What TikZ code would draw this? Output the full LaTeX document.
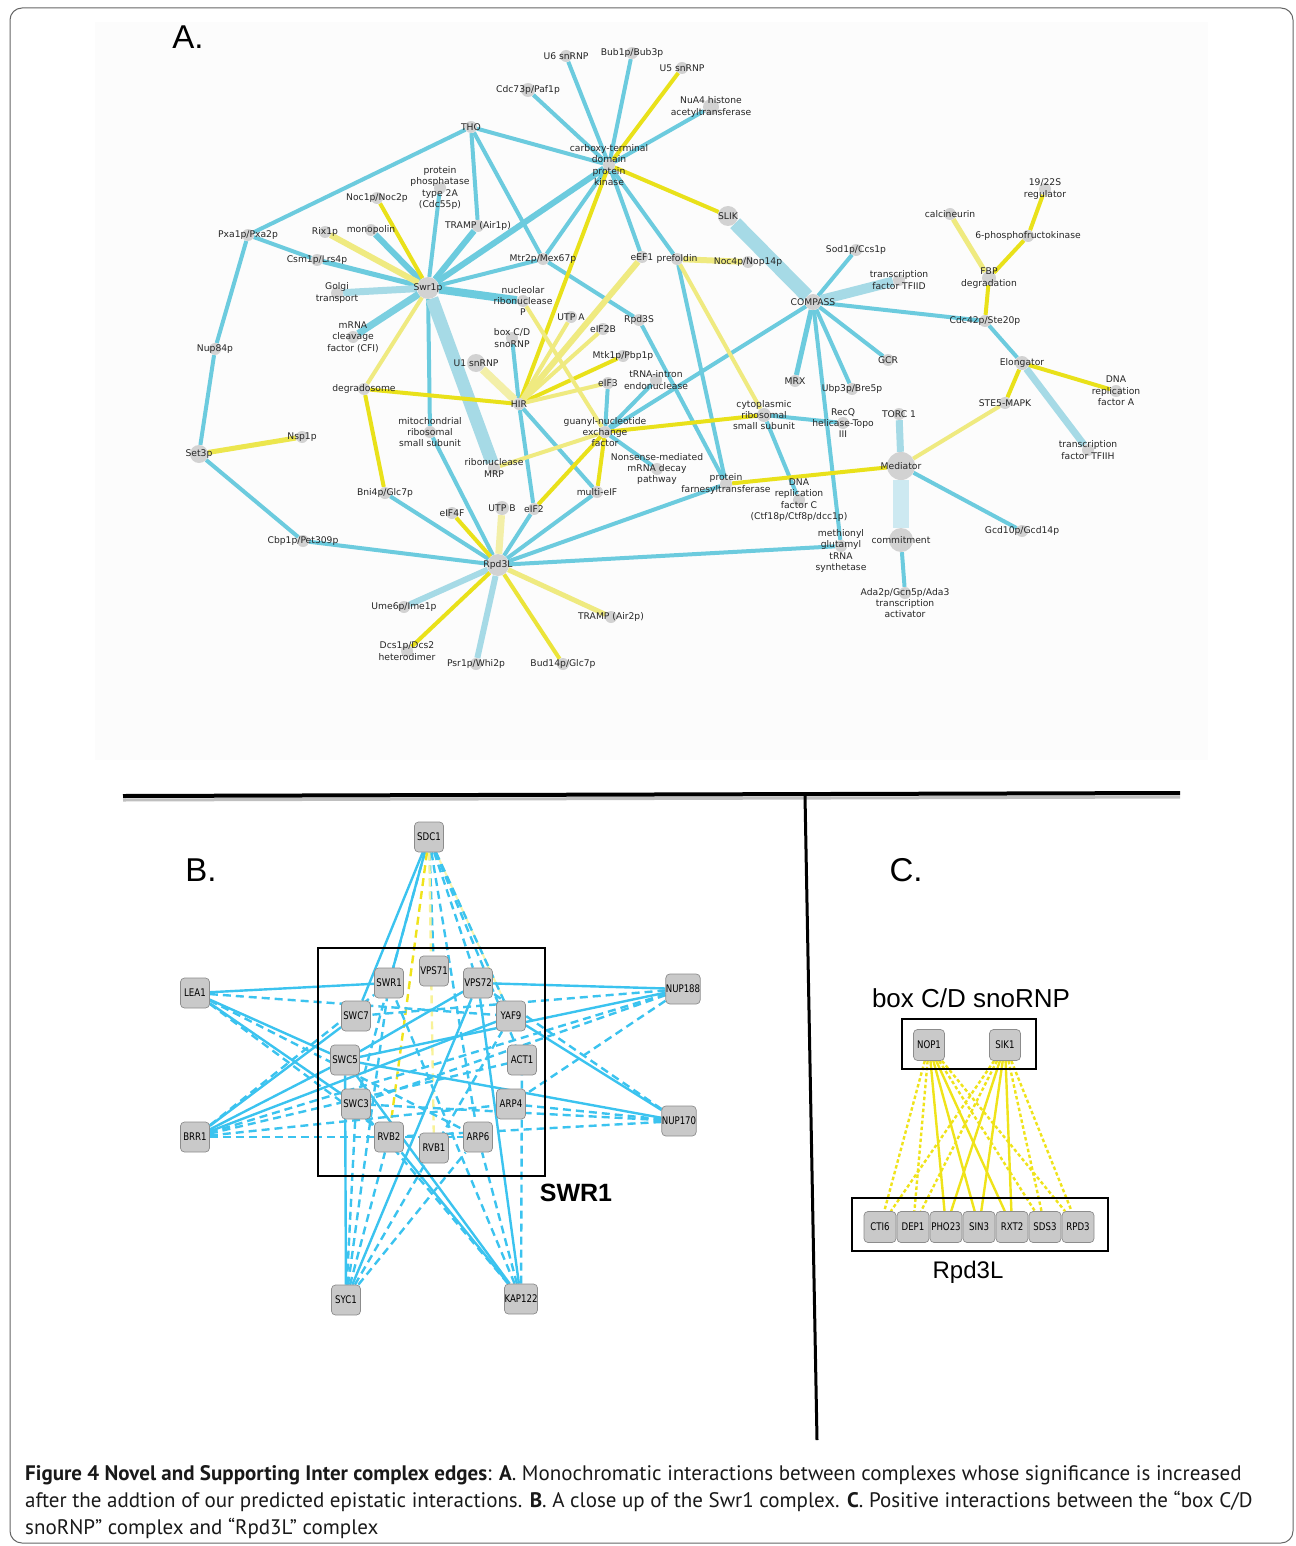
\documentclass[tikz,border=0pt]{standalone}
\usepackage{fontspec}
\setmainfont{Liberation Sans}
\newfontfamily\netfont{DejaVu Sans}
\newfontfamily\genefont[FakeStretch=0.82]{DejaVu Sans}
\newfontfamily\capfont{PT Sans}
\usetikzlibrary{backgrounds}
\definecolor{eblue}{HTML}{6CCBDE}
\definecolor{elblue}{HTML}{A6DAE6}
\definecolor{epale}{HTML}{CDE9F1}
\definecolor{eyel}{HTML}{E9E11A}
\definecolor{elyel}{HTML}{EFEA80}
\definecolor{epyel}{HTML}{F3EFA8}
\definecolor{cgray}{HTML}{D2D2D2}
\definecolor{bblue}{HTML}{3BC3EF}
\definecolor{bgray}{HTML}{C9C9C9}
\definecolor{byel}{HTML}{EFE31A}

\begin{document}
\begin{tikzpicture}[
    x=1pt, y=-1pt,
    cx/.style={circle, fill=cgray, inner sep=0pt, minimum size=12pt},
    lbl/.style={font=\netfont\fontsize{9.2}{11.3}\selectfont, align=center, inner sep=0pt, text=black!85},
    cplx/.style={cx, label={[lbl]center:#1}},
    eb/.style={draw=eblue, line width=4pt},
    elb/.style={draw=elblue, line width=7pt},
    ey/.style={draw=eyel, line width=4pt},
    ely/.style={draw=elyel, line width=4pt},
    gene/.style={rectangle, rounded corners=4pt, draw=black!45, fill=bgray, line width=0.7pt, minimum width=29pt, minimum height=30pt, inner sep=0pt, font=\genefont\fontsize{10.5}{12}\selectfont},
    bs/.style={draw=bblue, line width=2.4pt},
    bd/.style={bs, dash pattern=on 8pt off 5pt},
    cs/.style={draw=byel, line width=2.4pt},
    cd/.style={cs, dash pattern=on 3.5pt off 2.5pt},
    cframe/.style={draw=black, line width=1.8pt},
    panel/.style={font=\fontsize{33}{36}\selectfont, inner sep=0pt},
    title/.style={font=\fontsize{24}{28}\selectfont, inner sep=0pt}
]
\useasboundingbox (0,0) rectangle (1295,1546);
\draw[black!60, line width=1pt, rounded corners=12pt] (10,8) rectangle (1293,1543);

% Panel A - complexes
\node[panel] (lettera) at (188,37) {A.};
\node[cplx=U6 snRNP] (u6) at (566,56) {};
\node[cplx=Bub1p/Bub3p] (bub) at (632,53) {};
\node[cplx=U5 snRNP] (u5) at (682,68) {};
\node[cplx=NuA4 histone\\acetyltransferase, minimum size=16pt] (nua4) at (711,107) {};
\node[cplx=Cdc73p/Paf1p, minimum size=14pt] (cdc73) at (528,90) {};
\node[cplx=THO] (tho) at (471,127) {};
\node[cplx=carboxy-terminal\\domain\\protein\\kinase] (ctd) at (609,165) {};
\node[cplx=protein\\phosphatase\\type 2A\\(Cdc55p)] (pp2a) at (440,188) {};
\node[cplx=Noc1p/Noc2p] (noc1) at (377,198) {};
\node[cplx=Pxa1p/Pxa2p] (pxa) at (248,235) {};
\node[cplx=Rix1p] (rix1) at (325,232) {};
\node[cplx=monopolin] (monop) at (371,230) {};
\node[cplx=TRAMP (Air1p)] (tramp1) at (478,226) {};
\node[cplx=Csm1p/Lrs4p] (csm1) at (317,260) {};
\node[cplx=Mtr2p/Mex67p] (mtr2) at (543,259) {};
\node[cplx=eEF1] (eef1) at (642,257) {};
\node[cplx=prefoldin] (prefoldin) at (677,259) {};
\node[cplx=Noc4p/Nop14p] (noc4) at (748,262) {};
\node[cplx=SLIK, minimum size=20pt] (slik) at (728,216) {};
\node[cplx=Golgi\\transport] (golgi) at (337,293) {};
\node[cplx=Swr1p, minimum size=22pt] (swr1p) at (428,288) {};
\node[cplx=nucleolar\\ribonuclease\\P] (rnasep) at (523,301) {};
\node[cplx=UTP A] (utpa) at (571,317) {};
\node[cplx=Rpd3S] (rpd3s) at (639,320) {};
\node[cplx=eIF2B] (eif2b) at (603,329) {};
\node[cplx=box C/D\\snoRNP] (boxcd) at (512,338) {};
\node[cplx=Mtk1p/Pbp1p] (mtk1) at (623,356) {};
\node[cplx=U1 snRNP, minimum size=18pt] (u1) at (476,363) {};
\node[cplx=tRNA-intron\\endonuclease] (trnaint) at (656,380) {};
\node[cplx=eIF3] (eif3) at (608,383) {};
\node[cplx=HIR] (hir) at (519,404) {};
\node[cplx=guanyl-nucleotide\\exchange\\factor] (gef) at (605,432) {};
\node[cplx=mitochondrial\\ribosomal\\small subunit] (mito) at (430,432) {};
\node[cplx=ribonuclease\\MRP] (mrp) at (494,468) {};
\node[cplx=Nonsense-mediated\\mRNA decay\\pathway] (nmd) at (657,469) {};
\node[cplx=multi-eIF] (multieif) at (597,492) {};
\node[cplx=protein\\farnesyltransferase] (pft) at (726,484) {};
\node[cplx=DNA\\replication\\factor C\\(Ctf18p/Ctf8p/dcc1p)] (rfc) at (799,500) {};
\node[cplx=cytoplasmic\\ribosomal\\small subunit, minimum size=14pt] (cytrib) at (764,415) {};
\node[cplx=RecQ\\helicase-Topo\\III] (recq) at (843,423) {};
\node[cplx=MRX] (mrx) at (795,381) {};
\node[cplx=Ubp3p/Bre5p] (ubp3) at (852,389) {};
\node[cplx=GCR] (gcr) at (888,360) {};
\node[cplx=COMPASS, minimum size=16pt] (compass) at (813,302) {};
\node[cplx=Sod1p/Ccs1p] (sod1) at (856,250) {};
\node[cplx=transcription\\factor TFIID] (tfiid) at (899,280) {};
\node[cplx=calcineurin] (calcin) at (950,214) {};
\node[cplx=19/22S\\regulator] (r1922) at (1045,189) {};
\node[cplx=6-phosphofructokinase] (pfk) at (1028,236) {};
\node[cplx=FBP\\degradation, minimum size=14pt] (fbp) at (989,278) {};
\node[cplx=Cdc42p/Ste20p] (cdc42) at (985,321) {};
\node[cplx=Elongator, minimum size=14pt] (elong) at (1022,363) {};
\node[cplx=DNA\\replication\\factor A] (rfa) at (1116,391) {};
\node[cplx=STE5-MAPK] (ste5) at (1005,403) {};
\node[cplx=transcription\\factor TFIIH] (tfiih) at (1088,450) {};
\node[cplx=TORC 1] (torc1) at (899,414) {};
\node[cplx=Mediator, minimum size=28pt] (mediator) at (901,466) {};
\node[cplx=commitment, minimum size=24pt] (commit) at (901,540) {};
\node[cplx=Gcd10p/Gcd14p] (gcd10) at (1022,531) {};
\node[cx, label={[lbl, yshift=-5pt]center:methionyl\\glutamyl\\tRNA\\synthetase}] (metrs) at (841,546) {};
\node[cx, label={[lbl, yshift=-10pt]center:Ada2p/Gcn5p/Ada3\\transcription\\activator}] (ada2) at (905,593) {};
\node[cplx=TRAMP (Air2p)] (tramp2) at (611,617) {};
\node[cplx=Nup84p] (nup84) at (215,349) {};
\node[cplx=Set3p, minimum size=18pt] (set3) at (199,454) {};
\node[cplx=Nsp1p] (nsp1) at (302,437) {};
\node[cplx=degradosome] (degr) at (364,389) {};
\node[cplx=Bni4p/Glc7p] (bni4) at (385,493) {};
\node[cplx=Cbp1p/Pet309p] (cbp1) at (303,541) {};
\node[cplx=eIF4F] (eif4f) at (452,513) {};
\node[cplx=UTP B, minimum size=14pt] (utpb) at (502,508) {};
\node[cplx=eIF2] (eif2) at (534,509) {};
\node[cplx=Rpd3L, minimum size=22pt] (rpd3l) at (498,565) {};
\node[cplx=Ume6p/Ime1p] (ume6) at (404,607) {};
\node[cplx=Dcs1p/Dcs2\\heterodimer] (dcs1) at (407,651) {};
\node[cplx=Psr1p/Whi2p] (psr1) at (476,664) {};
\node[cplx=Bud14p/Glc7p] (bud14) at (563,664) {};
\node[cplx=mRNA\\cleavage\\factor (CFI)] (mrnacf) at (353,337) {};

% Panel B - Swr1 complex
\node[panel] (letterb) at (201,870) {B.};
\node[gene] (sdc1) at (429,837) {SDC1};
\node[gene] (lea1) at (195,993) {LEA1};
\node[gene] (nup188) at (683,989) {NUP188};
\node[gene] (brr1) at (195,1137) {BRR1};
\node[gene] (nup170) at (679,1121) {NUP170};
\node[gene] (syc1) at (346,1300) {SYC1};
\node[gene] (kap122) at (521,1299) {KAP122};
\node[gene] (swr1) at (389,983) {SWR1};
\node[gene] (vps71) at (434,971) {VPS71};
\node[gene] (vps72) at (478,983) {VPS72};
\node[gene] (swc7) at (356,1016) {SWC7};
\node[gene] (yaf9) at (511,1016) {YAF9};
\node[gene] (swc5) at (345,1060) {SWC5};
\node[gene] (act1) at (522,1060) {ACT1};
\node[gene] (swc3) at (356,1104) {SWC3};
\node[gene] (arp4) at (511,1104) {ARP4};
\node[gene] (rvb2) at (389,1137) {RVB2};
\node[gene] (rvb1) at (434,1148) {RVB1};
\node[gene] (arp6) at (478,1137) {ARP6};
\draw[cframe] (318,948) rectangle (545,1176);
\node[font=\bfseries\fontsize{25}{28}\selectfont, inner sep=0pt] (swrlabel) at (576,1193) {SWR1};

% Panel C - box C/D snoRNP and Rpd3L
\node[panel] (letterc) at (906,870) {C.};
\node[title, font=\fontsize{26}{30}\selectfont] (boxtitle) at (971,998) {box C/D snoRNP};
\node[gene, minimum width=31pt, minimum height=31pt] (nop1) at (929,1045) {NOP1};
\node[gene, minimum width=31pt, minimum height=31pt] (sik1) at (1005,1045) {SIK1};
\draw[cframe, line width=2.2pt] (902,1019) rectangle (1036,1069);
\node[gene, minimum width=32pt, minimum height=31pt] (cti6) at (880,1227) {CTI6};
\node[gene, minimum width=32pt, minimum height=31pt] (dep1) at (913,1227) {DEP1};
\node[gene, minimum width=32pt, minimum height=31pt] (pho23) at (946,1227) {PHO23};
\node[gene, minimum width=32pt, minimum height=31pt] (sin3) at (979,1227) {SIN3};
\node[gene, minimum width=32pt, minimum height=31pt] (rxt2) at (1012,1227) {RXT2};
\node[gene, minimum width=32pt, minimum height=31pt] (sds3) at (1045,1227) {SDS3};
\node[gene, minimum width=32pt, minimum height=31pt] (rpd3) at (1078,1227) {RPD3};
\draw[cframe, line width=2.2pt] (852,1198) rectangle (1108,1251);
\node[title] (rpdtitle) at (968,1272) {Rpd3L};

% Separators
\coordinate (hl) at (123,796);
\coordinate (hr) at (1180,793);
\coordinate (vt) at (805,796);
\coordinate (vb) at (817,1440);
\draw[black!25, line width=3pt] ([yshift=-4pt]hl) -- ([yshift=-4pt]hr);
\draw[black, line width=4pt] (hl) -- (hr);
\draw[black, line width=3pt] (vt) -- (vb);

% Caption
\node[anchor=base west, align=left, inner sep=0pt, text=black!90, font=\capfont\fontsize{21}{27}\selectfont] (caption) at (25,1534)
  {\textbf{Figure 4 Novel and Supporting Inter complex edges}: \textbf{A}. Monochromatic interactions between complexes whose significance is increased\\
   after the addtion of our predicted epistatic interactions. \textbf{B}. A close up of the Swr1 complex. \textbf{C}. Positive interactions between the “box C/D\\
   snoRNP” complex and “Rpd3L” complex};

\begin{scope}[on background layer]
\fill[black!1] (95,22) rectangle (1208,760);

% Arrows - panel A, blue
\draw[eb] (tho) -- (pxa);
\draw[eb] (tho) -- (ctd);
\draw[eb] (tho) -- (tramp1);
\draw[eb] (tho) -- (mtr2);
\draw[eb] (mtr2) -- (rpd3s);
\draw[eb] (pxa) -- (csm1);
\draw[eb] (pxa) -- (nup84);
\draw[eb] (nup84) -- (set3);
\draw[eb] (set3) -- (cbp1);
\draw[eb] (cbp1) -- (rpd3l);
\draw[eb] (swr1p) -- (pp2a);
\draw[eb] (swr1p) -- (mtr2);
\draw[eb] (swr1p) -- (mito);
\draw[eb] (ctd) -- (u6);
\draw[eb] (ctd) -- (bub);
\draw[eb] (ctd) -- (nua4);
\draw[eb] (ctd) -- (cdc73);
\draw[eb] (ctd) -- (eef1);
\draw[eb] (ctd) -- (prefoldin);
\draw[eb] (ctd) -- (mtr2);
\draw[eb] (prefoldin) -- (pft);
\draw[eb] (rpd3s) -- (pft);
\draw[eb] (hir) -- (boxcd);
\draw[eb] (hir) -- (eif2);
\draw[eb] (hir) -- (multieif);
\draw[eb] (gef) -- (eif3);
\draw[eb] (gef) -- (trnaint);
\draw[eb] (gef) -- (compass);
\draw[eb] (gef) -- (nmd);
\draw[eb] (mito) -- (rpd3l);
\draw[eb] (bni4) -- (rpd3l);
\draw[eb] (eif2) -- (rpd3l);
\draw[eb] (multieif) -- (rpd3l);
\draw[eb] (pft) -- (rpd3l);
\draw[eb] (metrs) -- (rpd3l);
\draw[eb] (compass) -- (sod1);
\draw[eb] (compass) -- (cdc42);
\draw[eb] (compass) -- (gcr);
\draw[eb] (compass) -- (ubp3);
\draw[eb] (compass) -- (metrs);
\draw[eb] (cytrib) -- (recq);
\draw[eb] (cytrib) -- (rfc);
\draw[eb] (mediator) -- (gcd10);
\draw[eb] (commit) -- (ada2);
\draw[eb] (cdc42) -- (elong);
\draw[eb, line width=5pt] (swr1p) -- (csm1);
\draw[eb, line width=6pt] (swr1p) -- (monop);
\draw[eb, line width=6pt] (swr1p) -- (tramp1);
\draw[eb, line width=6pt] (swr1p) -- (ctd);
\draw[eb, line width=8pt] (swr1p) -- (rnasep);
\draw[eb, line width=5pt] (compass) -- (mrx);

% Arrows - panel A, light blue
\draw[elb] (swr1p) -- (golgi);
\draw[elb, draw=eblue!75!elblue] (swr1p) -- (mrnacf);
\draw[elb, line width=13pt] (swr1p) -- (mrp);
\draw[elb, line width=14pt] (slik) -- (compass);
\draw[elb, line width=10pt] (compass) -- (tfiid);
\draw[elb] (elong) -- (tfiih);
\draw[elb] (mediator) -- (torc1);
\draw[elb, draw=epale, line width=16pt] (mediator) -- (commit);
\draw[elb, line width=6pt] (rpd3l) -- (ume6);
\draw[elb, line width=6pt] (rpd3l) -- (psr1);

% Arrows - panel A, yellow
\draw[ey] (swr1p) -- (noc1);
\draw[ey] (ctd) -- (u5);
\draw[ey] (ctd) -- (slik);
\draw[ey] (ctd) -- (hir);
\draw[ey] (hir) -- (degr);
\draw[ey] (hir) -- (mtk1);
\draw[ey] (degr) -- (bni4);
\draw[ey] (eif4f) -- (rpd3l);
\draw[ey] (gef) -- (cytrib);
\draw[ey] (gef) -- (multieif);
\draw[ey] (gef) -- (eif2);
\draw[ey] (pft) -- (mediator);
\draw[ey] (elong) -- (rfa);
\draw[ey] (elong) -- (ste5);
\draw[ey] (cdc42) -- (fbp);
\draw[ey] (fbp) -- (pfk);
\draw[ey] (pfk) -- (r1922);
\draw[ey] (rpd3l) -- (dcs1);
\draw[ey, draw=eyel!70!elyel] (rpd3l) -- (bud14);

% Arrows - panel A, light yellow
\draw[ely, line width=6pt] (swr1p) -- (rix1);
\draw[ely] (swr1p) -- (degr);
\draw[ely, line width=5pt, draw=eyel!50!elyel] (set3) -- (nsp1);
\draw[ely, line width=6pt] (eef1) -- (hir);
\draw[ely, draw=epyel, line width=8pt] (hir) -- (u1);
\draw[ely] (hir) -- (utpa);
\draw[ely] (hir) -- (eif2b);
\draw[ely] (hir) -- (eif3);
\draw[ely] (rnasep) -- (gef);
\draw[ely] (gef) -- (mrp);
\draw[ely, line width=6pt] (prefoldin) -- (noc4);
\draw[ely] (prefoldin) -- (cytrib);
\draw[ely, draw=epyel, line width=7pt] (utpb) -- (rpd3l);
\draw[ely, line width=5pt] (rpd3l) -- (tramp2);
\draw[ely] (ste5) -- (mediator);
\draw[ely, line width=5pt] (fbp) -- (calcin);

% Arrows - panel B
\draw[bs, draw=byel!35, line width=2pt] (sdc1) -- (yaf9);
\draw[bs] (sdc1) -- (swc7);
\draw[bs] (sdc1) -- (swr1);
\draw[bd] (sdc1) -- (vps71);
\draw[bd] (sdc1) -- (vps72);
\draw[bd] (sdc1) -- (yaf9);
\draw[bd] (sdc1) -- (act1);
\draw[bd] (sdc1) -- (arp6);
\draw[bd] (sdc1) -- (swc3);
\draw[bd, draw=byel] (sdc1) -- (rvb2);
\draw[bd, draw=byel!45] (sdc1) -- (rvb1);
\draw[bs] (lea1) -- (swr1);
\draw[bs] (lea1) -- (swc3);
\draw[bs] (lea1) -- (swc5);
\draw[bd] (lea1) -- (yaf9);
\draw[bd] (lea1) -- (arp6);
\draw[bd] (lea1) -- (rvb2);
\draw[bs] (brr1) -- (swc5);
\draw[bs] (brr1) -- (swc7);
\draw[bs] (brr1) -- (yaf9);
\draw[bd] (brr1) -- (swr1);
\draw[bd] (brr1) -- (act1);
\draw[bd] (brr1) -- (arp4);
\draw[bd] (brr1) -- (arp6);
\draw[bd] (brr1) -- (nup188);
\draw[bs] (vps72) -- (nup188);
\draw[bs] (swc5) -- (nup188);
\draw[bs] (swc5) -- (vps72);
\draw[bd] (nup188) -- (swc7);
\draw[bd] (nup188) -- (arp4);
\draw[bd] (nup188) -- (swc3);
\draw[bs] (swc5) -- (nup170);
\draw[bs] (yaf9) -- (nup170);
\draw[bd] (nup170) -- (vps72);
\draw[bd] (nup170) -- (swc3);
\draw[bd] (nup170) -- (rvb2);
\draw[bd] (nup170) -- (arp4);
\draw[bs] (vps72) -- (syc1);
\draw[bs] (swc5) -- (syc1);
\draw[bd] (syc1) -- (swc3);
\draw[bd] (syc1) -- (rvb2);
\draw[bd] (syc1) -- (arp6);
\draw[bd] (syc1) -- (yaf9);
\draw[bd] (syc1) -- (swr1);
\draw[bs] (swc5) -- (kap122);
\draw[bs] (rvb2) -- (kap122);
\draw[bs] (vps72) -- (kap122);
\draw[bd] (kap122) -- (arp6);
\draw[bd] (kap122) -- (swr1);
\draw[bd] (kap122) -- (act1);
\draw[bd] (kap122) -- (swc3);

% Arrows - panel C
\draw[cs] (nop1) -- (pho23);
\draw[cs] (nop1) -- (sin3);
\draw[cs] (nop1) -- (rxt2);
\draw[cs] (sik1) -- (pho23);
\draw[cs] (sik1) -- (sin3);
\draw[cs] (sik1) -- (rxt2);
\draw[cd] (nop1) -- (cti6);
\draw[cd] (nop1) -- (dep1);
\draw[cd] (nop1) -- (sds3);
\draw[cd] (nop1) -- (rpd3);
\draw[cd] (sik1) -- (cti6);
\draw[cd] (sik1) -- (dep1);
\draw[cd] (sik1) -- (sds3);
\draw[cd] (sik1) -- (rpd3);
\end{scope}

\end{tikzpicture}
\end{document}
